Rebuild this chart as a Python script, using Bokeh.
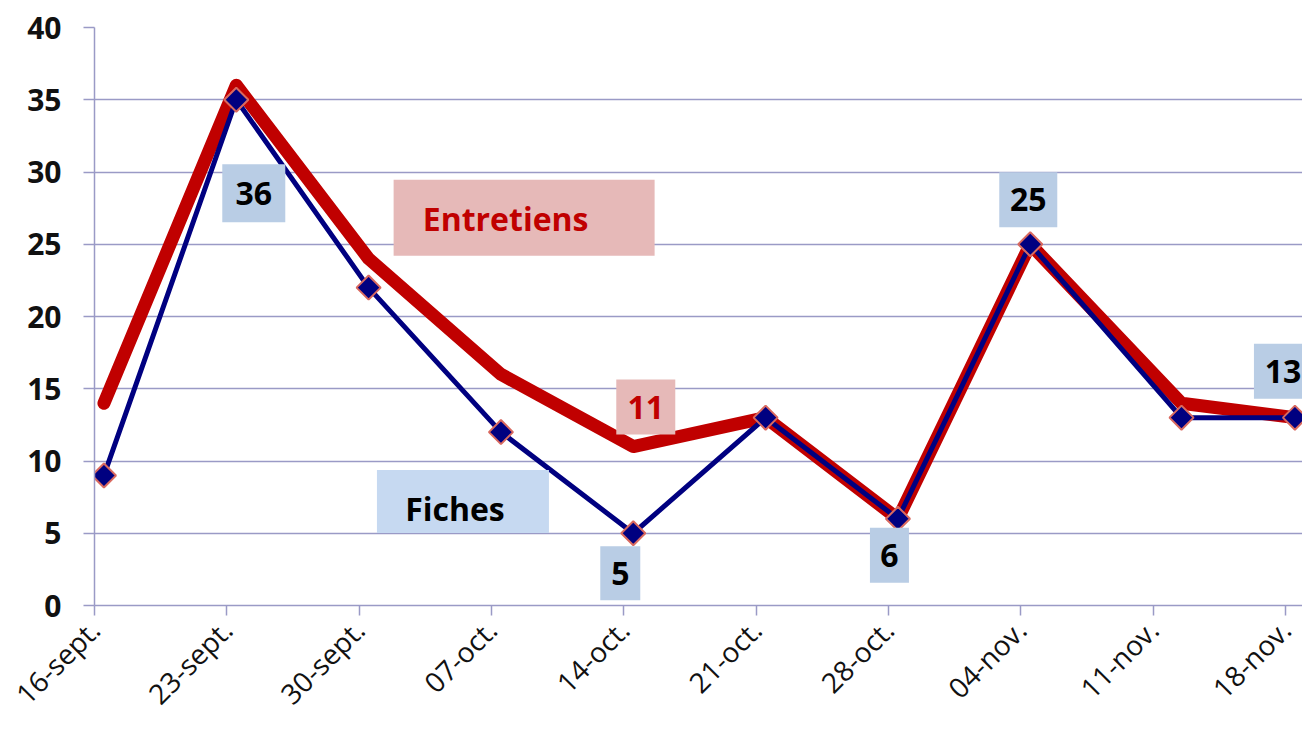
import numpy as np
import pandas as pd
from bokeh.plotting import figure
from bokeh.models import Range1d, FixedTicker
from bokeh.core.properties import value
from bokeh.embed import file_html
from bokeh.resources import INLINE

# ---------------- data ----------------
dates = ["2013-09-16", "2013-09-23", "2013-09-30", "2013-10-07", "2013-10-14",
         "2013-10-21", "2013-10-28", "2013-11-04", "2013-11-12", "2013-11-18"]
fiches = [9, 35, 22, 12, 5, 13, 6, 25, 13, 13]
entretiens = [14, 36, 24, 16, 11, 13, 6, 25, 14, 13]
tick_days = [0, 7, 14, 21, 28, 35, 42, 49, 56, 63]
tick_labels = ["16-sept.", "23-sept.", "30-sept.", "07-oct.", "14-oct.",
               "21-oct.", "28-oct.", "04-nov.", "11-nov.", "18-nov."]
y_ticks = [0, 5, 10, 15, 20, 25, 30, 35, 40]

# points sit between tick marks (mid-day) on a day-based axis
days = (pd.to_datetime(dates) - pd.Timestamp(dates[0])).days.to_numpy() + 0.5

# ---------------- layout ----------------
W, H = 1302, 728
LEFT, RIGHT, TOP = 94, 0, 27
FH = 578
BOTTOM = H - TOP - FH
FW = W - LEFT - RIGHT
X_END, Y_END = 63.9, 40
PPD = FW / X_END
PPU = FH / Y_END

GRID = "#9A9AC6"
RED = "#C00000"
NAVY = "#000080"
BLUE_BOX = "#B9CDE5"
BLUE_BOX2 = "#C6D9F1"
PINK_BOX = "#E6B9B8"
FONT = "Open Sans"

p = figure(width=W, height=H, x_range=Range1d(0, X_END), y_range=Range1d(0, Y_END),
           output_backend="svg", toolbar_location=None,
           min_border_left=LEFT, min_border_right=RIGHT,
           min_border_top=TOP, min_border_bottom=BOTTOM)
p.outline_line_color = None
p.background_fill_color = "white"
p.border_fill_color = "white"

p.xgrid.visible = False
p.ygrid.grid_line_color = GRID
p.ygrid.grid_line_width = 1.5

p.yaxis.ticker = FixedTicker(ticks=y_ticks)
p.xaxis.ticker = FixedTicker(ticks=tick_days)
p.xaxis.major_label_overrides = {d: lab for d, lab in zip(tick_days, tick_labels)}
p.xaxis.major_label_orientation = np.pi / 4

for ax in (p.xaxis[0], p.yaxis[0]):
    ax.axis_line_color = GRID
    ax.axis_line_width = 1.5
    ax.major_tick_line_color = GRID
    ax.major_tick_line_width = 1.5
    ax.minor_tick_line_color = None
    ax.major_tick_in = 0
    ax.major_label_text_font = FONT
    ax.major_label_text_color = "#111111"

p.yaxis.major_tick_out = 11
p.yaxis.major_label_text_font_size = "30px"
p.yaxis.major_label_text_font_style = "bold"
p.yaxis.major_label_standoff = 22
p.xaxis.major_tick_out = 10
p.xaxis.major_label_text_font_size = "28px"
p.xaxis.major_label_standoff = 9

# ---------------- series ----------------
p.line(days, entretiens, line_color=RED, line_width=13, line_join="round", line_cap="round")
p.line(days, fiches, line_color=NAVY, line_width=5, line_join="round")
p.scatter(days, fiches, marker="square", angle=np.pi / 4, size=17,
          fill_color=NAVY, line_color="#D9695F", line_width=2)

# ---------------- labels (pixel offsets from their data point) ----------------
def place(xv, yv, dx, dy):
    return xv + dx / PPD, yv - dy / PPU

labels = [
    # text, series, index, box offset, box size, text offset, box color, text color
    ("36", entretiens, 1, (17.5, 108), (63, 58), (17.5, 108), BLUE_BOX, "black"),
    ("11", entretiens, 4, (12.5, -39.5), (59, 55), (12.5, -39.5), PINK_BOX, RED),
    ("5", fiches, 4, (-13, 40), (40, 54), (-13, 40), BLUE_BOX, "black"),
    ("6", fiches, 6, (-8.5, 36.5), (39, 55), (-8.5, 36.5), BLUE_BOX, "black"),
    ("25", fiches, 7, (-2, -44.5), (58, 55), (-2, -44.5), BLUE_BOX, "black"),
    ("13", fiches, 9, (-12, -46.5), (58, 55), (-12, -46.5), BLUE_BOX, "black"),
    ("Entretiens", entretiens, 2, (155.5, -41), (261, 76), (137, -40), PINK_BOX, RED),
    ("Fiches", fiches, 3, (-38, 69.5), (172, 63), (-46, 76), BLUE_BOX2, "black"),
]

for txt, series, i, boff, bsize, toff, bcol, tcol in labels:
    bx, by = place(days[i], series[i], *boff)
    p.rect(x=[bx], y=[by], width=bsize[0], height=bsize[1],
           width_units="screen", height_units="screen",
           fill_color=bcol, line_color=None)
    tx, ty = place(days[i], series[i], *toff)
    p.text(x=[tx], y=[ty], text=[txt], text_font=value(FONT), text_font_size="32px",
           text_font_style="bold", text_color=tcol, text_align="center",
           text_baseline="alphabetic")

open("out.html", "w").write(file_html(p, INLINE))
